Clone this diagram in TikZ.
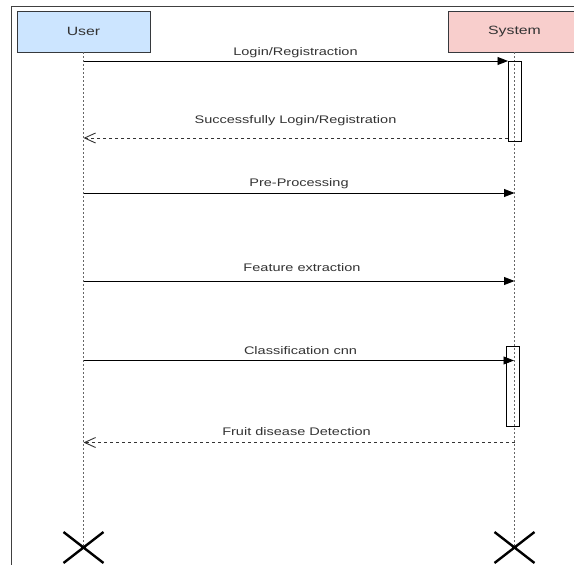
\documentclass[tikz,border=0pt]{standalone}
\usepackage{fontspec}
\setmainfont{Liberation Sans}
\usetikzlibrary{arrows.meta,calc}
\definecolor{userfill}{HTML}{CCE5FF}
\definecolor{sysfill}{HTML}{F8CECC}
\definecolor{edge}{HTML}{36393D}
\definecolor{txt}{HTML}{333333}
\newcommand{\wide}[1]{\scalebox{1.32}[1]{#1}}
\tikzset{
  actor/.style={draw=edge, line width=0.9pt, minimum width=133pt, minimum height=41pt,
    inner sep=0pt, text=txt, font=\fontsize{12}{14}\selectfont},
  lifeline/.style={draw=black!60, line width=0.9pt, dash pattern=on 2pt off 2pt},
  activation/.style={draw=black, line width=0.9pt},
  callmsg/.style={draw=black, line width=0.9pt, -{Triangle[length=10.5pt,width=8pt]}},
  replymsg/.style={draw=black!80, line width=0.9pt, dash pattern=on 3pt off 3pt,
    -{Straight Barb[length=11pt,width=10pt,line width=0.9pt]}},
  msglabel/.style={text=txt, font=\fontsize{11}{13}\selectfont, inner sep=0pt},
  endmark/.style={draw=black, line width=2.4pt},
  frameline/.style={draw=black!75, line width=1pt}
}
\begin{document}
\begin{tikzpicture}[x=1pt, y=-1pt]
\clip (0,0) rectangle (574,565);
\fill[white] (0,0) rectangle (574,565);

% outer frame (top and left edges)
\draw[frameline] (11,565) -- (11,6) -- (574,6);

% participants
\node[actor, fill=userfill] (user) at (83.5,31.5) {\wide{User}};
\node[actor, fill=sysfill] (system) at (514.5,31.5) {\wide{System}};

% lifeline ends
\coordinate (uend) at (83.5,546);
\coordinate (send) at (514.5,546);
\draw[lifeline] (user.south) -- (uend);
\draw[lifeline] (system.south) -- (send);

% activation bars
\draw[activation] (508,61) rectangle (521,141);
\draw[activation] (506,346) rectangle (519,426);

% destruction marks
\draw[endmark] ($(uend)+(-20,-14)$) -- ($(uend)+(20,17)$)
               ($(uend)+(-20,17)$) -- ($(uend)+(20,-14)$);
\draw[endmark] ($(send)+(-20,-14)$) -- ($(send)+(20,17)$)
               ($(send)+(-20,17)$) -- ($(send)+(20,-14)$);

% message end points
\coordinate (u1) at (83.5,61);   \coordinate (s1) at (508,61);
\coordinate (u2) at (83.5,138);  \coordinate (s2) at (508,138);
\coordinate (u3) at (83.5,193);  \coordinate (s3) at (514.5,193);
\coordinate (u4) at (83.5,281);  \coordinate (s4) at (514.5,281);
\coordinate (u5) at (83.5,360.5);\coordinate (s5) at (514,360.5);
\coordinate (u6) at (83.5,442.5);\coordinate (s6) at (514.5,442.5);

% messages
\draw[callmsg] (u1) -- (s1);
\draw[replymsg] (s2) -- (u2);
\draw[callmsg] (u3) -- (s3);
\draw[callmsg] (u4) -- (s4);
\draw[callmsg] (u5) -- (s5);
\draw[replymsg] (s6) -- (u6);

% message labels
\node[msglabel] (m1) at (295.5,52.5) {\wide{Login/Registraction}};
\node[msglabel] (m2) at (295.5,121) {\wide{Successfully Login/Registration}};
\node[msglabel] (m3) at (299,184) {\wide{Pre-Processing}};
\node[msglabel] (m4) at (302,267.5) {\wide{Feature extraction}};
\node[msglabel] (m5) at (300.5,351) {\wide{Classification cnn}};
\node[msglabel] (m6) at (296.5,432) {\wide{Fruit disease Detection}};
\end{tikzpicture}
\end{document}
